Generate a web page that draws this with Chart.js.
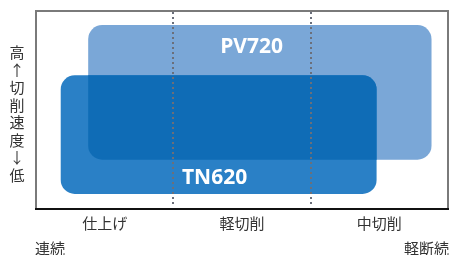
<!DOCTYPE html>
<html>
<head>
<meta charset="utf-8">
<script src="https://cdn.jsdelivr.net/npm/chart.js@4/dist/chart.umd.min.js"></script>
<style>
  html, body { margin: 0; padding: 0; background: #fff; }
  #wrap { width: 449px; height: 255px; }
</style>
</head>
<body>
<div id="wrap"><canvas id="toolChart"></canvas></div>
<script>
// 加工領域（横軸）
const categories = ['仕上げ', '軽切削', '中切削'];
const dividers = [1, 2];

// 材種名と適用範囲 [x開始, x終了] / [y下, y上]
const grades = ['PV720', 'TN620'];
const xRange = [[0.38, 2.88], [0.18, 2.48]];
const yRange = [[2.49, 9.29], [0.76, 6.75]];
const labelX = [1.57, 1.30];
const labelY = [8.17, 1.57];

// 軸ラベル
const yTitle = ['高', '↑', '切', '削', '速', '度', '↓', '低'];
const leftNote = '連続';
const rightNote = '軽断続';

const gradeColors = ['#7aa7d7', '#2a80c6'];
const overlapColor = '#0f6cb6';
const jpFont = '"Noto Sans CJK JP", sans-serif';

function roundRect(c, x0, y0, x1, y1, r) {
  c.beginPath();
  c.moveTo(x0 + r, y0);
  c.arcTo(x1, y0, x1, y1, r);
  c.arcTo(x1, y1, x0, y1, r);
  c.arcTo(x0, y1, x0, y0, r);
  c.arcTo(x0, y0, x1, y0, r);
  c.closePath();
}

const rangePlugin = {
  id: 'ranges',
  beforeDatasetsDraw(chart) {
    const c = chart.ctx;
    const xs = chart.scales.xv, ys = chart.scales.y;
    const a = chart.chartArea;
    const rect = i => [
      xs.getPixelForValue(xRange[i][0]), ys.getPixelForValue(yRange[i][1]),
      xs.getPixelForValue(xRange[i][1]), ys.getPixelForValue(yRange[i][0])
    ];
    c.save();
    grades.forEach((g, i) => {
      const [x0, y0, x1, y1] = rect(i);
      c.fillStyle = gradeColors[i];
      roundRect(c, x0, y0, x1, y1, 14);
      c.fill();
    });
    // 重なり部分
    c.save();
    let r = rect(0);
    roundRect(c, r[0], r[1], r[2], r[3], 14);
    c.clip();
    r = rect(1);
    c.fillStyle = overlapColor;
    roundRect(c, r[0], r[1], r[2], r[3], 14);
    c.fill();
    c.restore();

    // 点線
    c.strokeStyle = '#6b6f7a';
    c.lineWidth = 2;
    c.setLineDash([2, 3]);
    dividers.forEach(v => {
      const x = Math.round(xs.getPixelForValue(v));
      c.beginPath();
      c.moveTo(x, a.top + 1);
      c.lineTo(x, a.bottom - 2);
      c.stroke();
    });
    c.setLineDash([]);

    // 材種名
    c.fillStyle = '#fff';
    c.font = 'bold 21px "Open Sans", sans-serif';
    c.textAlign = 'center';
    c.textBaseline = 'middle';
    grades.forEach((g, i) => {
      c.fillText(g, xs.getPixelForValue(labelX[i]), ys.getPixelForValue(labelY[i]));
    });

    // 枠
    c.lineWidth = 2;
    c.strokeStyle = '#7a7a7a';
    c.beginPath();
    c.moveTo(a.left, a.bottom);
    c.lineTo(a.left, a.top);
    c.lineTo(a.right, a.top);
    c.lineTo(a.right, a.bottom);
    c.stroke();
    c.strokeStyle = '#111';
    c.beginPath();
    c.moveTo(a.left - 1, a.bottom);
    c.lineTo(a.right + 1, a.bottom);
    c.stroke();

    // 縦軸タイトル
    c.fillStyle = '#333';
    c.font = '15px ' + jpFont;
    const mid = (a.top + a.bottom) / 2 + 4;
    yTitle.forEach((ch, i) => {
      c.fillText(ch, 17, mid + (i - (yTitle.length - 1) / 2) * 17.5);
    });
    // 下部注記
    c.textAlign = 'left';
    c.fillText(leftNote, a.left - 1, 248);
    c.textAlign = 'right';
    c.fillText(rightNote, chart.width, 248);
    c.restore();
  }
};

const ctx = document.getElementById('toolChart').getContext('2d');
new Chart(ctx, {
  type: 'bar',
  data: {
    labels: categories,
    datasets: [{ data: [], label: '' }]
  },
  options: {
    responsive: true,
    maintainAspectRatio: false,
    animation: false,
    layout: { padding: { left: 36, top: 11, right: 1, bottom: 18 } },
    plugins: { legend: { display: false }, tooltip: { enabled: false } },
    scales: {
      x: {
        offset: true,
        grid: { display: false, drawTicks: false },
        border: { display: false },
        ticks: {
          padding: 5,
          color: '#333',
          font: { family: jpFont, size: 15 }
        }
      },
      xv: { type: 'linear', display: false, offset: false, min: 0, max: 3 },
      y: { type: 'linear', display: false, offset: false, min: 0, max: 10 }
    }
  },
  plugins: [rangePlugin]
});
</script>
</body>
</html>
